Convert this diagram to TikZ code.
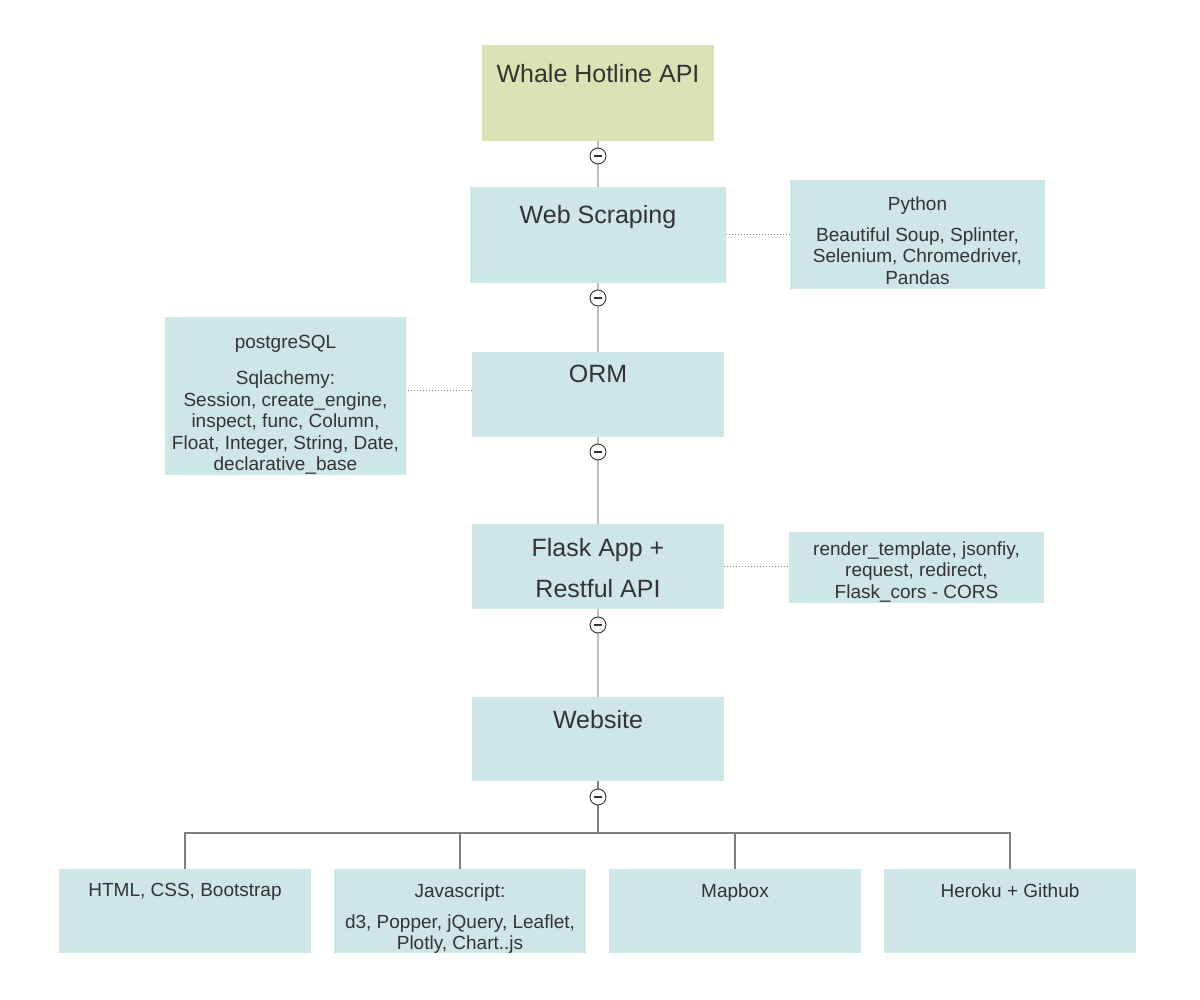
\documentclass[tikz,border=0pt]{standalone}
\usepackage{fontspec}
\setmainfont{Liberation Sans}
\definecolor{boxblue}{RGB}{207,230,232}
\definecolor{boxgreen}{RGB}{217,227,179}
\definecolor{txtgray}{RGB}{51,51,51}
\definecolor{linkgray}{RGB}{190,190,190}
\definecolor{treegray}{RGB}{128,128,128}
\begin{document}
\begin{tikzpicture}[x=0.5pt, y=-0.5pt,
    box/.style={fill=boxblue, inner sep=0pt, outer sep=0pt},
    bigtxt/.style={anchor=north, inner sep=0pt, align=center, text=txtgray, font=\fontsize{12.5}{20.5}\selectfont},
    smalltxt/.style={anchor=north, inner sep=0pt, align=center, text=txtgray, font=\fontsize{9.5}{10.75}\selectfont},
    link/.style={draw=linkgray, line width=1pt},
    treelink/.style={draw=treegray, line width=0.75pt},
    dotlink/.style={draw=treegray, densely dotted, line width=0.5pt},
    collapse/.style={circle, draw=txtgray, fill=white, line width=0.45pt, minimum size=8pt, inner sep=0pt,
        path picture={\draw[txtgray, line width=0.55pt] ([xshift=2pt]path picture bounding box.west) -- ([xshift=-2pt]path picture bounding box.east);}}]
    \useasboundingbox (0,0) rectangle (1200,1000);

    %Main column
    \node[box, fill=boxgreen, minimum width=116pt, minimum height=48pt] (api) at (598,93) {};
    \node[box, minimum width=128pt, minimum height=48pt] (ws) at (598,235) {};
    \node[box, minimum width=126pt, minimum height=42.5pt] (orm) at (598,394.5) {};
    \node[box, minimum width=126pt, minimum height=42.5pt] (flask) at (598,566.5) {};
    \node[box, minimum width=126pt, minimum height=42pt] (web) at (598,739) {};

    %Side boxes
    \node[box, minimum width=127.5pt, minimum height=54.5pt] (py) at (917.5,234.5) {};
    \node[box, minimum width=120.5pt, minimum height=79pt] (pg) at (285.5,396) {};
    \node[box, minimum width=127.5pt, minimum height=35.5pt] (fl) at (916.5,567.5) {};

    %Bottom row
    \node[box, minimum width=126pt, minimum height=42pt] (html) at (185,911) {};
    \node[box, minimum width=126pt, minimum height=42pt] (js) at (460,911) {};
    \node[box, minimum width=126pt, minimum height=42pt] (map) at (735,911) {};
    \node[box, minimum width=126pt, minimum height=42pt] (hero) at (1010,911) {};

    %Texts
    \node[bigtxt] (apitxt) at (598,64) {Whale Hotline API};
    \node[bigtxt] (wstxt) at (598,205) {Web Scraping};
    \node[bigtxt] (ormtxt) at (598,365) {ORM};
    \node[bigtxt] (flasktxt) at (598,538) {Flask App +\\Restful API};
    \node[bigtxt] (webtxt) at (598,710) {Website};
    \node[smalltxt] (pytxt) at (917.5,196) {Python\\[4.75pt]Beautiful Soup, Splinter,\\Selenium, Chromedriver,\\Pandas};
    \node[smalltxt] (pgtxt) at (285.5,335) {postgreSQL\\[7.25pt]Sqlachemy:\\Session, create\_engine,\\inspect, func, Column,\\Float, Integer, String, Date,\\declarative\_base};
    \node[smalltxt] (fltxt) at (916.5,541) {render\_template, jsonfiy,\\request, redirect,\\Flask\_cors - CORS};
    \node[smalltxt] (htmltxt) at (185,883) {HTML, CSS, Bootstrap};
    \node[smalltxt] (jstxt) at (460,883) {Javascript:\\[4.75pt]d3, Popper, jQuery, Leaflet,\\Plotly, Chart..js};
    \node[smalltxt] (maptxt) at (735,883) {Mapbox};
    \node[smalltxt] (herotxt) at (1010,883) {Heroku + Github};

    %Connectors
    \draw[link] (api) -- (ws);
    \draw[link] (ws) -- (orm);
    \draw[link] (orm) -- (flask);
    \draw[link] (flask) -- (web);
    \draw[dotlink] (ws.east) -- (ws.east -| py.west);
    \draw[dotlink] (orm.west) ++(0,-3.5) coordinate (ormside) -- (ormside -| pg.east);
    \draw[dotlink] (flask.east) -- (flask.east -| fl.west);

    \coordinate (fork) at (598,833);
    \draw[treelink] (web) -- (fork);
    \draw[treelink] (fork) -| (html);
    \draw[treelink] (fork) -| (js);
    \draw[treelink] (fork) -| (map);
    \draw[treelink] (fork) -| (hero);

    %Collapse marks
    \node[collapse] (c1) at (598,156) {};
    \node[collapse] (c2) at (598,298) {};
    \node[collapse] (c3) at (598,452) {};
    \node[collapse] (c4) at (598,625) {};
    \node[collapse] (c5) at (598,797) {};
\end{tikzpicture}
\end{document}
